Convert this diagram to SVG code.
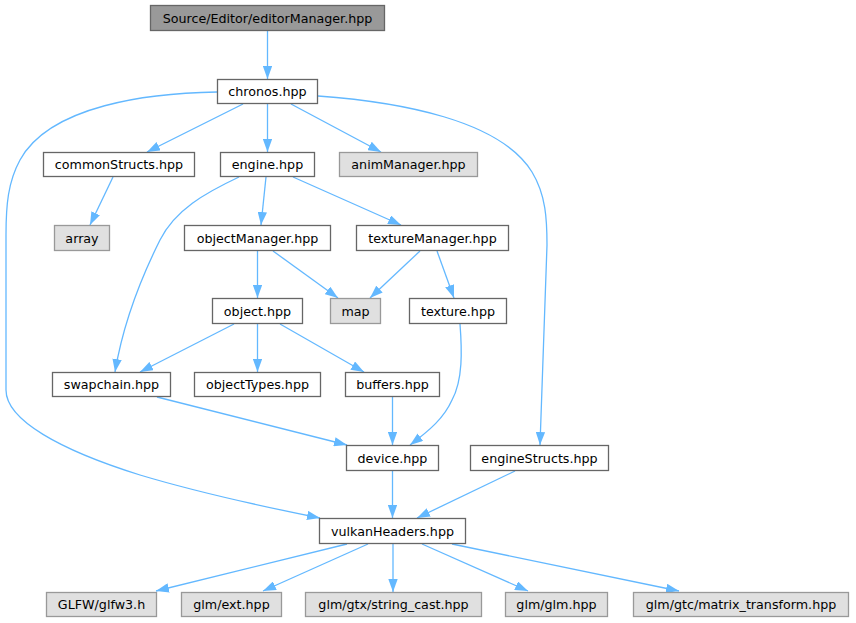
<svg xmlns="http://www.w3.org/2000/svg" width="856" height="623" viewBox="0 0 856 623">
<style>
.n rect{fill:#ffffff;stroke:#666666;stroke-width:1.3}
.g rect{fill:#e0e0e0;stroke:#999999;stroke-width:1.3}
.r rect{fill:#999999;stroke:#666666;stroke-width:1.3}
text{font-family:"DejaVu Sans",sans-serif;font-size:12.7px;fill:#000000;text-anchor:middle}
#edges path{fill:none;stroke:#63b8ff;stroke-width:1.3;marker-end:url(#a)}
</style>
<defs>
<marker id="a" markerWidth="13" markerHeight="9.4" refX="13" refY="4.7" orient="auto" markerUnits="userSpaceOnUse">
<path d="M0,0L13,4.7L0,9.4z" fill="#63b8ff"/>
</marker>
</defs>
<rect width="856" height="623" fill="#ffffff"/>
<g id="edges">
<path d="M267.5,31L267.5,79"/>
<path d="M243,104L147,152"/>
<path d="M267.5,104L267.5,152"/>
<path d="M291,104L381,152"/>
<path d="M318,96C400,102 500,120 532,172C546,195 547,220 547,245L540,445"/>
<path d="M217,92C150,93 50,105 20,160C8,182 6,205 6,235L6,390C6,420 60,450 140,475C200,493 270,508 320,518"/>
<path d="M113,177L90,225"/>
<path d="M239,177C205,193 175,210 160,240C135,290 122,330 115,372"/>
<path d="M266,177L261,225"/>
<path d="M293,177L401,225"/>
<path d="M257.5,251L257.5,298"/>
<path d="M273,251L338,298"/>
<path d="M420,251L370,298"/>
<path d="M437,251L454,298"/>
<path d="M234,324L140,372"/>
<path d="M257.5,324L257.5,372"/>
<path d="M280,324L364,372"/>
<path d="M157,397L347,445"/>
<path d="M392.5,397L392.5,445"/>
<path d="M460,324C462,350 463,380 452,400C444,418 430,430 410,445"/>
<path d="M392.5,471L392.5,518"/>
<path d="M515,471L417,518"/>
<path d="M347,544L156,591"/>
<path d="M368,544L263,591"/>
<path d="M393,544L393,592"/>
<path d="M422,544L528,591"/>
<path d="M452,544L679,591"/>
</g>
<g id="editorManager" class="r"><rect x="150.5" y="5.5" width="234" height="25"/><text x="267.5" y="22.5">Source/Editor/editorManager.hpp</text></g>
<g id="chronos" class="n"><rect x="217.5" y="79.5" width="100" height="24"/><text x="267.5" y="96">chronos.hpp</text></g>
<g id="commonStructs" class="n"><rect x="43.5" y="152.5" width="151" height="24"/><text x="119" y="169">commonStructs.hpp</text></g>
<g id="engine" class="n"><rect x="220.5" y="152.5" width="94" height="24"/><text x="267.5" y="169">engine.hpp</text></g>
<g id="animManager" class="g"><rect x="339.5" y="152.5" width="138" height="24"/><text x="408.5" y="169">animManager.hpp</text></g>
<g id="array" class="g"><rect x="54.5" y="225.5" width="55" height="25"/><text x="82" y="242.5">array</text></g>
<g id="objectManager" class="n"><rect x="184.5" y="225.5" width="146" height="25"/><text x="257.5" y="242.5">objectManager.hpp</text></g>
<g id="textureManager" class="n"><rect x="356.5" y="225.5" width="152" height="25"/><text x="432.5" y="242.5">textureManager.hpp</text></g>
<g id="map" class="g"><rect x="330.5" y="298.5" width="50" height="25"/><text x="355.5" y="315.5">map</text></g>
<g id="texture" class="n"><rect x="409.5" y="298.5" width="97" height="25"/><text x="458" y="315.5">texture.hpp</text></g>
<g id="object" class="n"><rect x="212.5" y="298.5" width="90" height="25"/><text x="257.5" y="315.5">object.hpp</text></g>
<g id="swapchain" class="n"><rect x="52.5" y="372.5" width="118" height="24"/><text x="111.5" y="389">swapchain.hpp</text></g>
<g id="objectTypes" class="n"><rect x="194.5" y="372.5" width="126" height="24"/><text x="257.5" y="389">objectTypes.hpp</text></g>
<g id="buffers" class="n"><rect x="345.5" y="372.5" width="94" height="24"/><text x="392.5" y="389">buffers.hpp</text></g>
<g id="device" class="n"><rect x="346.5" y="445.5" width="92" height="25"/><text x="392.5" y="462.5">device.hpp</text></g>
<g id="engineStructs" class="n"><rect x="470.5" y="445.5" width="138" height="25"/><text x="539.5" y="462.5">engineStructs.hpp</text></g>
<g id="vulkanHeaders" class="n"><rect x="319.5" y="518.5" width="146" height="25"/><text x="392.5" y="535.5">vulkanHeaders.hpp</text></g>
<g id="glfw3" class="g"><rect x="46.5" y="592.5" width="110" height="24"/><text x="101.5" y="609">GLFW/glfw3.h</text></g>
<g id="glmExt" class="g"><rect x="181.5" y="592.5" width="100" height="24"/><text x="231.5" y="609">glm/ext.hpp</text></g>
<g id="stringCast" class="g"><rect x="305.5" y="592.5" width="176" height="24"/><text x="393.5" y="609">glm/gtx/string_cast.hpp</text></g>
<g id="glmGlm" class="g"><rect x="505.5" y="592.5" width="102" height="24"/><text x="556.5" y="609">glm/glm.hpp</text></g>
<g id="matrixTransform" class="g"><rect x="633.5" y="592.5" width="215" height="24"/><text x="741" y="609">glm/gtc/matrix_transform.hpp</text></g>
</svg>
